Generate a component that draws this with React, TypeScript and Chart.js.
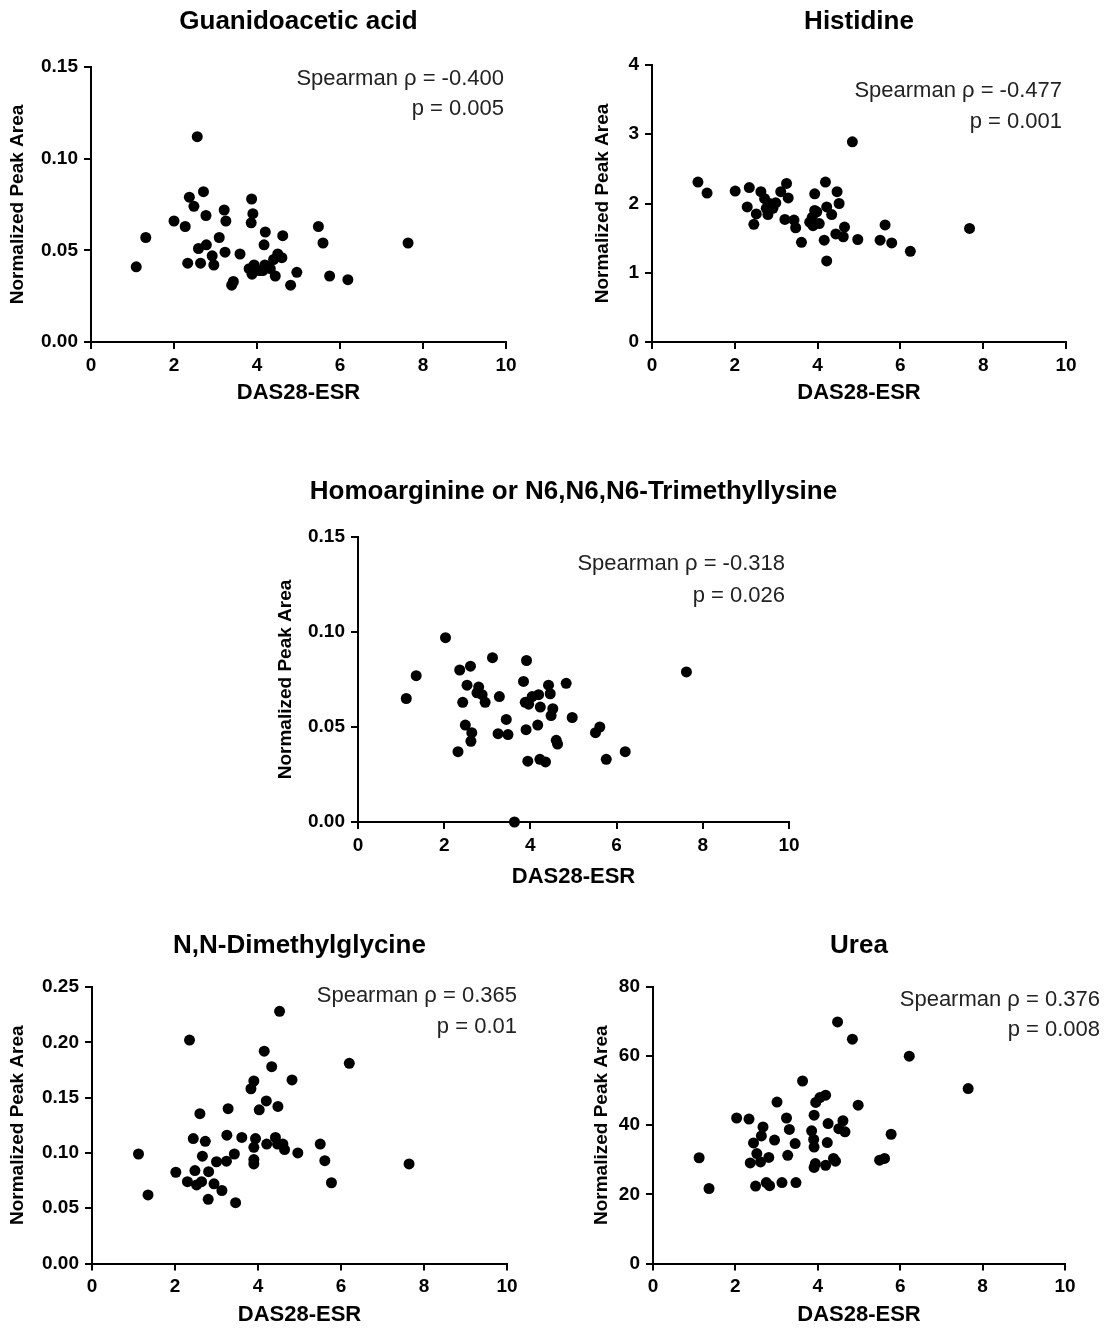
import React, { useEffect, useRef } from "react";
import { Chart, registerables } from "chart.js";

Chart.register(...registerables);

// ---------- data ----------
const xTickValues = [0, 2, 4, 6, 8, 10];
const xTickLabels = ["0", "2", "4", "6", "8", "10"];

const guanX = [2.56, 2.71, 2.37, 2.48, 3.87, 3.21, 2.77, 3.25, 3.9, 3.86, 2.0, 2.27, 1.32, 1.09, 4.2, 4.62, 5.48, 5.59, 7.64, 3.09, 2.59, 2.78, 4.17, 2.92, 3.23, 3.59, 2.33, 2.64, 2.96, 4.5, 4.6, 4.4, 3.81, 3.93, 3.88, 4.14, 4.19, 4.32, 4.44, 4.96, 4.81, 5.75, 6.19, 3.43, 3.39, 4.06];
const guanY = [0.112, 0.082, 0.079, 0.074, 0.078, 0.072, 0.069, 0.066, 0.07, 0.065, 0.066, 0.063, 0.057, 0.041, 0.06, 0.058, 0.063, 0.054, 0.054, 0.057, 0.051, 0.053, 0.053, 0.047, 0.049, 0.048, 0.043, 0.043, 0.042, 0.048, 0.046, 0.045, 0.04, 0.042, 0.037, 0.039, 0.042, 0.04, 0.036, 0.038, 0.031, 0.036, 0.034, 0.033, 0.031, 0.039];

const histX = [4.84, 1.11, 1.33, 2.01, 2.35, 2.63, 3.25, 3.11, 3.29, 4.19, 3.93, 4.47, 4.52, 2.3, 2.72, 2.84, 2.99, 2.8, 2.52, 2.46, 3.21, 3.43, 3.47, 3.61, 3.93, 3.87, 3.81, 3.89, 4.04, 4.22, 4.34, 4.16, 4.22, 4.44, 4.65, 4.62, 4.97, 5.63, 5.51, 5.79, 6.24, 7.67, 2.92, 2.76, 3.98];
const histY = [2.89, 2.31, 2.15, 2.18, 2.23, 2.17, 2.29, 2.17, 2.08, 2.31, 2.14, 2.17, 2.0, 1.95, 2.07, 2.0, 2.01, 1.84, 1.85, 1.7, 1.77, 1.76, 1.65, 1.44, 1.9, 1.8, 1.73, 1.68, 1.71, 1.95, 1.84, 1.47, 1.17, 1.56, 1.66, 1.52, 1.48, 1.69, 1.47, 1.43, 1.31, 1.64, 1.93, 1.93, 1.88];

const homoX = [2.03, 1.35, 1.12, 2.36, 2.61, 3.12, 3.91, 3.84, 2.53, 2.8, 2.76, 2.95, 2.88, 3.28, 2.43, 4.42, 4.46, 4.83, 4.19, 4.04, 3.88, 3.96, 4.23, 4.52, 4.48, 4.97, 3.44, 2.49, 2.64, 2.62, 3.25, 3.48, 3.9, 4.17, 4.6, 4.63, 5.51, 5.61, 2.32, 3.94, 4.22, 4.35, 5.76, 6.2, 7.62, 3.63];
const homoY = [0.097, 0.077, 0.065, 0.08, 0.082, 0.0865, 0.085, 0.074, 0.072, 0.071, 0.068, 0.063, 0.067, 0.066, 0.063, 0.072, 0.0675, 0.073, 0.067, 0.066, 0.063, 0.062, 0.0605, 0.0596, 0.056, 0.055, 0.054, 0.051, 0.047, 0.0425, 0.0465, 0.046, 0.0486, 0.051, 0.043, 0.041, 0.047, 0.05, 0.037, 0.032, 0.033, 0.0316, 0.033, 0.037, 0.079, 0.0];

const dmgX = [4.52, 2.35, 4.15, 4.33, 6.2, 4.82, 3.9, 3.83, 4.2, 4.48, 4.03, 3.28, 2.6, 2.44, 2.73, 3.25, 3.61, 3.94, 3.9, 4.21, 4.42, 4.47, 4.6, 4.64, 4.96, 5.5, 5.61, 5.77, 7.64, 1.12, 1.35, 2.66, 3.0, 3.24, 3.43, 3.9, 3.9, 2.02, 2.48, 2.81, 2.3, 2.52, 2.64, 2.94, 3.13, 2.8, 3.46];
const dmgY = [0.228, 0.202, 0.192, 0.178, 0.181, 0.166, 0.165, 0.158, 0.147, 0.142, 0.139, 0.14, 0.1355, 0.113, 0.1105, 0.116, 0.114, 0.113, 0.105, 0.108, 0.114, 0.108, 0.108, 0.103, 0.1, 0.108, 0.093, 0.073, 0.09, 0.099, 0.062, 0.097, 0.092, 0.0925, 0.099, 0.094, 0.09, 0.0825, 0.084, 0.083, 0.074, 0.071, 0.074, 0.072, 0.066, 0.058, 0.055];

const ureaX = [4.48, 4.84, 6.22, 7.65, 3.63, 4.19, 4.05, 3.95, 4.98, 3.01, 2.03, 2.33, 3.24, 3.91, 4.25, 4.61, 4.51, 4.66, 5.78, 2.67, 3.31, 2.63, 3.85, 2.95, 2.44, 3.45, 3.9, 3.91, 4.23, 1.12, 1.36, 2.52, 2.36, 2.61, 2.81, 3.27, 3.94, 3.91, 4.19, 4.38, 4.43, 5.5, 5.62, 2.49, 2.75, 2.83, 3.13, 3.47];
const ureaY = [69.9, 64.9, 60.0, 50.6, 52.8, 48.7, 48.0, 46.6, 45.8, 46.7, 42.1, 41.8, 42.1, 42.9, 40.5, 41.3, 39.0, 38.1, 37.4, 39.5, 38.8, 36.9, 38.4, 35.7, 34.9, 34.7, 35.9, 33.7, 35.0, 30.6, 21.7, 31.8, 29.1, 29.4, 30.7, 31.3, 28.9, 27.8, 28.4, 30.4, 29.6, 29.9, 30.4, 22.4, 23.4, 22.5, 23.4, 23.4];

const yTicks015 = [0, 0.05, 0.1, 0.15];
const yLabels015 = ["0.00", "0.05", "0.10", "0.15"];
const yTicksHist = [0, 1, 2, 3, 4];
const yLabelsHist = ["0", "1", "2", "3", "4"];
const yTicks025 = [0, 0.05, 0.1, 0.15, 0.2, 0.25];
const yLabels025 = ["0.00", "0.05", "0.10", "0.15", "0.20", "0.25"];
const yTicksUrea = [0, 20, 40, 60, 80];
const yLabelsUrea = ["0", "20", "40", "60", "80"];

const panelTitles = [
  "Guanidoacetic acid",
  "Histidine",
  "Homoarginine or N6,N6,N6-Trimethyllysine",
  "N,N-Dimethylglycine",
  "Urea",
];
const rhoTexts = [
  "Spearman ρ = -0.400",
  "Spearman ρ = -0.477",
  "Spearman ρ = -0.318",
  "Spearman ρ = 0.365",
  "Spearman ρ = 0.376",
];
const pTexts = ["p = 0.005", "p = 0.001", "p = 0.026", "p = 0.01", "p = 0.008"];
const xTitle = "DAS28-ESR";
const yTitle = "Normalized Peak Area";

// ---------- layout (pixel positions on page) ----------
const FONT = "'Liberation Sans', Arial, Helvetica, sans-serif";
const TITLE_SIZE = 26;
const XTITLE_SIZE = 22;
const YTITLE_SIZE = 19;
const TICK_SIZE = 19;
const NOTE_SIZE = 22;

type Layout = {
  cx: number; cy: number; cw: number;
  L: number; R: number; T: number; B: number;
  titleY: number; xTitleY: number; yTitleX: number;
  noteR: number; note1: number; note2: number;
  fullTitle: boolean;
};

const layouts: Layout[] = [
  { cx: 0, cy: 0, cw: 553, L: 91, R: 506, T: 67, B: 342, titleY: 22, xTitleY: 393, yTitleX: 18, noteR: 504, note1: 79, note2: 109, fullTitle: false },
  { cx: 553, cy: 0, cw: 553, L: 652, R: 1066, T: 65, B: 342, titleY: 22, xTitleY: 393, yTitleX: 603, noteR: 1062, note1: 91, note2: 122, fullTitle: false },
  { cx: 260, cy: 455, cw: 627, L: 358, R: 789, T: 537, B: 822, titleY: 492, xTitleY: 877, yTitleX: 286, noteR: 785, note1: 564, note2: 596, fullTitle: true },
  { cx: 0, cy: 905, cw: 553, L: 92, R: 507, T: 987, B: 1263.5, titleY: 946, xTitleY: 1315, yTitleX: 18, noteR: 517, note1: 996, note2: 1027, fullTitle: false },
  { cx: 553, cy: 905, cw: 553, L: 653, R: 1065, T: 987, B: 1263.5, titleY: 946, xTitleY: 1315, yTitleX: 602, noteR: 1100, note1: 1000, note2: 1030, fullTitle: false },
];

type PanelData = { xs: number[]; ys: number[]; yTicks: number[]; yLabels: string[] };
const panelData: PanelData[] = [
  { xs: guanX, ys: guanY, yTicks: yTicks015, yLabels: yLabels015 },
  { xs: histX, ys: histY, yTicks: yTicksHist, yLabels: yLabelsHist },
  { xs: homoX, ys: homoY, yTicks: yTicks015, yLabels: yLabels015 },
  { xs: dmgX, ys: dmgY, yTicks: yTicks025, yLabels: yLabels025 },
  { xs: ureaX, ys: ureaY, yTicks: yTicksUrea, yLabels: yLabelsUrea },
];

const notePlugin = {
  id: "spearmanNote",
  afterDraw(chart: any, _args: any, opts: any) {
    const ctx = chart.ctx;
    ctx.save();
    ctx.font = `${NOTE_SIZE}px ${FONT}`;
    ctx.fillStyle = "#222";
    ctx.textAlign = "right";
    ctx.textBaseline = "middle";
    ctx.fillText(opts.rho, opts.x, opts.y1);
    ctx.fillText(opts.p, opts.x, opts.y2);
    ctx.restore();
  },
};

function Panel({ idx }: { idx: number }) {
  const ref = useRef<HTMLCanvasElement | null>(null);
  const lay = layouts[idx];
  const d = panelData[idx];

  const lhT = TITLE_SIZE * 1.2;
  const lhX = XTITLE_SIZE * 1.2;
  const lhY = YTITLE_SIZE * 1.2;
  const titlePadTop = lay.titleY - lay.cy - lhT / 2;
  const titlePadBottom = lay.T - lay.cy - lhT - titlePadTop;
  const scaleBottom = lay.xTitleY + lhX / 2;
  const ch = Math.ceil(scaleBottom - lay.cy);
  const padB = ch - (scaleBottom - lay.cy);
  const xHeight = scaleBottom - lay.B;
  const yWidth = lay.L - lay.cx;
  const rightSpace = lay.cx + lay.cw - lay.R;
  const yTitlePadTop = lay.yTitleX - lay.cx - lhY / 2;

  useEffect(() => {
    if (!ref.current) return;
    const points = d.xs.map((x, i) => ({ x, y: d.ys[i] }));
    const scales: any = {
      x: {
        type: "linear",
        min: 0,
        max: 10,
        afterBuildTicks: (s: any) => {
          s.ticks = xTickValues.map((v) => ({ value: v }));
        },
        afterFit: (s: any) => {
          s.height = xHeight;
        },
        ticks: {
          autoSkip: false,
          maxRotation: 0,
          padding: 5,
          color: "#000",
          font: { family: FONT, size: TICK_SIZE, weight: "bold" },
          callback: (_v: any, i: number) => xTickLabels[i],
        },
        grid: { display: true, drawOnChartArea: false, drawTicks: true, tickLength: 7, lineWidth: 2, color: "#000" },
        border: { display: true, color: "#000", width: 2 },
        title: {
          display: true,
          text: xTitle,
          color: "#000",
          font: { family: FONT, size: XTITLE_SIZE, weight: "bold", lineHeight: 1.2 },
          padding: { top: 0, bottom: 0 },
        },
      },
      y: {
        type: "linear",
        min: d.yTicks[0],
        max: d.yTicks[d.yTicks.length - 1],
        afterBuildTicks: (s: any) => {
          s.ticks = d.yTicks.map((v) => ({ value: v }));
        },
        afterFit: (s: any) => {
          s.width = yWidth;
        },
        ticks: {
          autoSkip: false,
          padding: 6,
          color: "#000",
          font: { family: FONT, size: TICK_SIZE, weight: "bold" },
          callback: (_v: any, i: number) => d.yLabels[i],
        },
        grid: { display: true, drawOnChartArea: false, drawTicks: true, tickLength: 7, lineWidth: 2, color: "#000" },
        border: { display: true, color: "#000", width: 2 },
        title: {
          display: true,
          text: yTitle,
          color: "#000",
          font: { family: FONT, size: YTITLE_SIZE, weight: "bold", lineHeight: 1.2 },
          padding: { top: yTitlePadTop, bottom: 0 },
        },
      },
    };
    if (lay.fullTitle) {
      // empty right-hand spacer scale so the full-width title stays centred over the plot
      scales.ySpace = {
        type: "linear",
        axis: "y",
        position: "right",
        display: true,
        grid: { display: false, drawTicks: false },
        border: { display: false },
        ticks: { display: false },
        afterFit: (s: any) => {
          s.width = rightSpace;
        },
      };
    }
    const chart = new Chart(ref.current, {
      type: "scatter",
      data: {
        datasets: [
          {
            data: points,
            backgroundColor: "#000",
            borderColor: "#000",
            borderWidth: 0,
            pointRadius: 5.5,
            pointHoverRadius: 5.5,
            clip: false,
            xAxisID: "x",
            yAxisID: "y",
          } as any,
        ],
      },
      plugins: [notePlugin],
      options: {
        animation: false,
        responsive: false,
        maintainAspectRatio: false,
        events: [],
        layout: { padding: { left: 0, top: 0, right: lay.fullTitle ? 0 : rightSpace, bottom: padB } },
        plugins: {
          legend: { display: false },
          tooltip: { enabled: false },
          title: {
            display: true,
            text: panelTitles[idx],
            fullSize: lay.fullTitle,
            color: "#000",
            font: { family: FONT, size: TITLE_SIZE, weight: "bold", lineHeight: 1.2 },
            padding: { top: titlePadTop, bottom: titlePadBottom },
          },
          spearmanNote: {
            rho: rhoTexts[idx],
            p: pTexts[idx],
            x: lay.noteR - lay.cx,
            y1: lay.note1 - lay.cy,
            y2: lay.note2 - lay.cy,
          },
        } as any,
        scales,
      } as any,
    });
    return () => chart.destroy();
  }, [idx]);

  return (
    <canvas
      ref={ref}
      width={lay.cw}
      height={ch}
      style={{ position: "absolute", left: lay.cx, top: lay.cy, width: lay.cw, height: ch }}
    />
  );
}

export default function App() {
  return (
    <div
      style={{
        position: "absolute",
        left: 0,
        top: 0,
        width: 1106,
        height: 1329,
        overflow: "hidden",
        background: "#fff",
      }}
    >
      {layouts.map((_, i) => (
        <Panel key={i} idx={i} />
      ))}
    </div>
  );
}
